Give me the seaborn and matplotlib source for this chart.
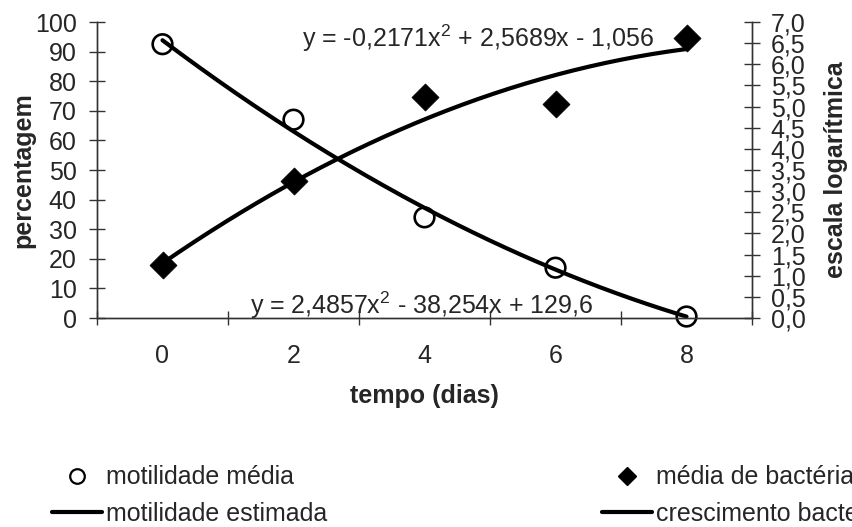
import numpy as np
import pandas as pd
import matplotlib
matplotlib.use("Agg")
import matplotlib.pyplot as plt
import seaborn as sns
from matplotlib.lines import Line2D
from matplotlib.ticker import FixedLocator, FuncFormatter

# ---- data ----
days = ["0", "2", "4", "6", "8"]
motilidade_media = [92.5, 67.0, 34.0, 17.0, 0.5]        # left axis (%)
media_bacterias = [1.25, 3.25, 5.22, 5.05, 6.62]        # right axis (log scale)
# trendline coefficients shown on the chart (x = 1..5 in category order)
coef_motilidade = [2.4857, -38.254, 129.6]
coef_bacterias = [-0.2171, 2.5689, -1.056]
eq_motilidade = r"y = 2,4857x$^{\mathregular{2}}$ - 38,254x + 129,6"
eq_bacterias = r"y = -0,2171x$^{\mathregular{2}}$ + 2,5689x - 1,056"
left_ticks = list(range(0, 101, 10))
right_ticks = [i * 0.5 for i in range(15)]

sns.set_theme(style="white")
plt.rcParams["font.family"] = ["Liberation Sans", "DejaVu Sans"]
plt.rcParams["mathtext.fontset"] = "custom"
plt.rcParams["mathtext.rm"] = "Liberation Sans"
FS = 18

fig = plt.figure(figsize=(8.52, 5.27), dpi=100)
ax = fig.add_axes([97 / 852, (527 - 318) / 527, 655 / 852, 296 / 527])
ax2 = ax.twinx()

xpos = np.arange(len(days))
df = pd.DataFrame({"x": xpos, "mot": motilidade_media, "bac": media_bacterias})

# trend curves
xs = np.linspace(0, len(days) - 1, 200)
xe = xs + 1
mot_fit = np.polyval(coef_motilidade, xe)
bac_fit = np.polyval(coef_bacterias, xe)
sns.lineplot(x=xs, y=mot_fit, ax=ax, color="black", linewidth=3, zorder=2)
sns.scatterplot(data=df, x="x", y="mot", ax=ax, marker="o", s=200,
                facecolor="none", edgecolor="black", linewidth=1.9, zorder=3,
                clip_on=False)
sns.lineplot(x=xs, y=bac_fit, ax=ax2, color="black", linewidth=3, zorder=2)
sns.scatterplot(data=df, x="x", y="bac", ax=ax2, marker="D", s=190,
                color="black", edgecolor="black", linewidth=0.5, zorder=3,
                clip_on=False)

# axes styling
ax.set_xlim(-0.5, len(days) - 0.5)
ax.set_ylim(0, 100)
ax2.set_ylim(0, 7)
ax.set_yticks(left_ticks)
ax2.set_yticks(right_ticks)
ax2.yaxis.set_major_formatter(FuncFormatter(lambda v, p: f"{v:.1f}".replace(".", ",")))

ax.xaxis.set_major_locator(FixedLocator(np.arange(-0.5, len(days), 1.0)))
ax.xaxis.set_minor_locator(FixedLocator(xpos))
ax.set_xticklabels([])
ax.set_xticklabels(days, minor=True)
ax.tick_params(axis="x", which="major", direction="inout", length=10, width=1,
               color="#333333", bottom=True)
ax.tick_params(axis="x", which="minor", length=0, pad=19, labelsize=FS, bottom=True)
ax.tick_params(axis="y", direction="inout", length=11, width=1, color="#333333",
               labelsize=FS, pad=9, left=True)
ax2.tick_params(axis="y", direction="inout", length=11, width=1, color="#333333",
                labelsize=FS, pad=8, right=True)

for a in (ax, ax2):
    a.spines["top"].set_visible(False)
    for s in ("left", "right", "bottom"):
        a.spines[s].set_color("#333333")
        a.spines[s].set_linewidth(1)
    a.grid(False)
ax.set_facecolor("none")

ax.set_xlabel("tempo (dias)", fontsize=FS, fontweight="bold", labelpad=11)
ax.set_ylabel("percentagem", fontsize=FS, fontweight="bold", labelpad=0)
ax2.set_ylabel("escala logarítmica", fontsize=FS, fontweight="bold", labelpad=13)

# equations
ax.text(1.065, 91.5, eq_bacterias, fontsize=FS, ha="left", va="baseline")
ax.text(0.668, 1.5, eq_motilidade, fontsize=FS, ha="left", va="baseline")

# legends
h1 = [Line2D([], [], marker="o", linestyle="none", markerfacecolor="none",
             markeredgecolor="black", markersize=10.5, markeredgewidth=1.6),
      Line2D([], [], color="black", linewidth=3)]
h2 = [Line2D([], [], marker="D", linestyle="none", color="black", markersize=9),
      Line2D([], [], color="black", linewidth=3)]
kw = dict(frameon=False, fontsize=FS, handlelength=2.0, handletextpad=0.15,
          labelspacing=0.5, borderpad=0, borderaxespad=0, loc="center left")
fig.legend(h1, ["motilidade média", "motilidade estimada"],
           bbox_to_anchor=(52 / 852, 1 - 495.5 / 527), **kw)
fig.legend(h2, ["média de bactérias", "crescimento bacteriano"],
           bbox_to_anchor=(602 / 852, 1 - 495.5 / 527), **kw)

fig.savefig("out.png", dpi=100)
